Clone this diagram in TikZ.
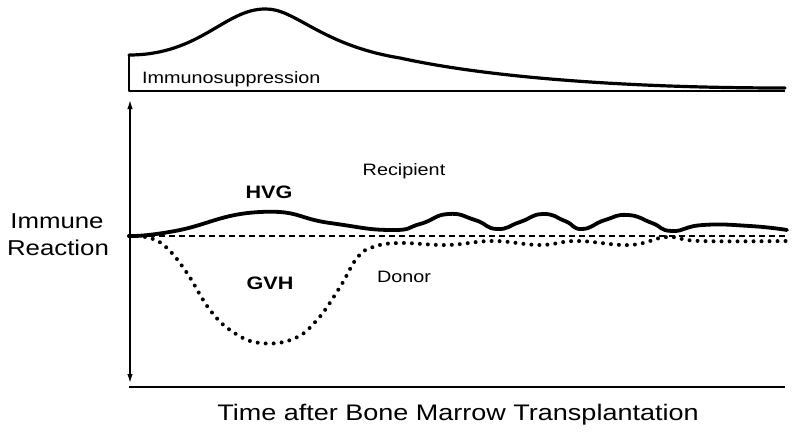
\documentclass[tikz,border=0pt]{standalone}
\usepackage{fontspec}
\setmainfont[FakeStretch=1.2]{Liberation Sans}
\usetikzlibrary{arrows.meta}
\begin{document}
\begin{tikzpicture}[x=1pt,y=-1pt,
  lbl/.style={anchor=base,inner sep=0pt,font=\fontsize{16.5}{19}\selectfont},
  axlbl/.style={anchor=base,inner sep=0pt,font=\fontsize{21.5}{26}\selectfont},
  tag/.style={anchor=base,inner sep=0pt,font=\fontsize{18}{21}\selectfont\bfseries},
  hvgline/.style={line width=3.8pt,line cap=round,line join=round},
  gvhline/.style={line width=4pt,line cap=round,dash pattern=on 0pt off 8pt},
  baseline/.style={line width=1.3pt,dash pattern=on 5.5pt off 4.5pt},
  axis/.style={line width=2pt}]
\useasboundingbox (0,0) rectangle (800,434);
% immunosuppression box
\draw[line width=2.2pt,line join=round] (129,56) -- (129,91) -- (785,91);
\draw[line width=3.2pt,line cap=round] (129,55) .. controls (200,55) and (225,9) .. (265,9)
  .. controls (295,8) and (320,45) .. (400,58)
  .. controls (500,80) and (650,88) .. (785,88);
\node[lbl,anchor=base west] (imm) at (142,83) {Immunosuppression};
% axes
\coordinate (top) at (130,100);
\coordinate (bot) at (130,383);
\coordinate (t0) at (129,387);
\coordinate (t1) at (785,387);
\draw[line width=1.4pt,{Latex[length=9pt,width=5.5pt]}-{Latex[length=9pt,width=5.5pt]}] (top) -- (bot);
\draw[axis] (t0) -- (t1);
\node[axlbl] (imm1) at (57,228) {Immune};
\node[axlbl] (reac) at (58,255) {Reaction};
\node[axlbl,font=\fontsize{22.5}{27}\selectfont] (time) at (458,420) {Time after Bone Marrow Transplantation};
% zero line
\coordinate (z0) at (129,236);
\coordinate (z1) at (787,236);
\draw[baseline] (z0) -- (z1);
% recipient (HVG)
\draw[hvgline] plot[smooth,tension=0.9] coordinates {
  (129,236) (175,231) (260,212) (330,223) (390,230) (420,224) (448,214) (475,220)
  (497,229) (520,222) (543,214) (565,221) (582,229) (605,220) (628,215) (652,223)
  (672,231) (703,225) (750,226) (787,230)};
% donor (GVH)
\draw[gvhline] plot[smooth,tension=0.7] coordinates {
  (129,236) (150,238) (167,248) (187,273) (210,310) (233,332) (260,343) (293,339)
  (317,320) (340,287) (357,258) (373,247) (400,243) (447,245) (493,241) (540,245)
  (577,241) (630,245) (667,237) (700,241) (787,241)};
\node[lbl] (rec) at (404,175) {Recipient};
\node[lbl] (don) at (404,282) {Donor};
\node[tag] (hvg) at (269,198) {HVG};
\node[tag] (gvh) at (270,289) {GVH};
\end{tikzpicture}
\end{document}
